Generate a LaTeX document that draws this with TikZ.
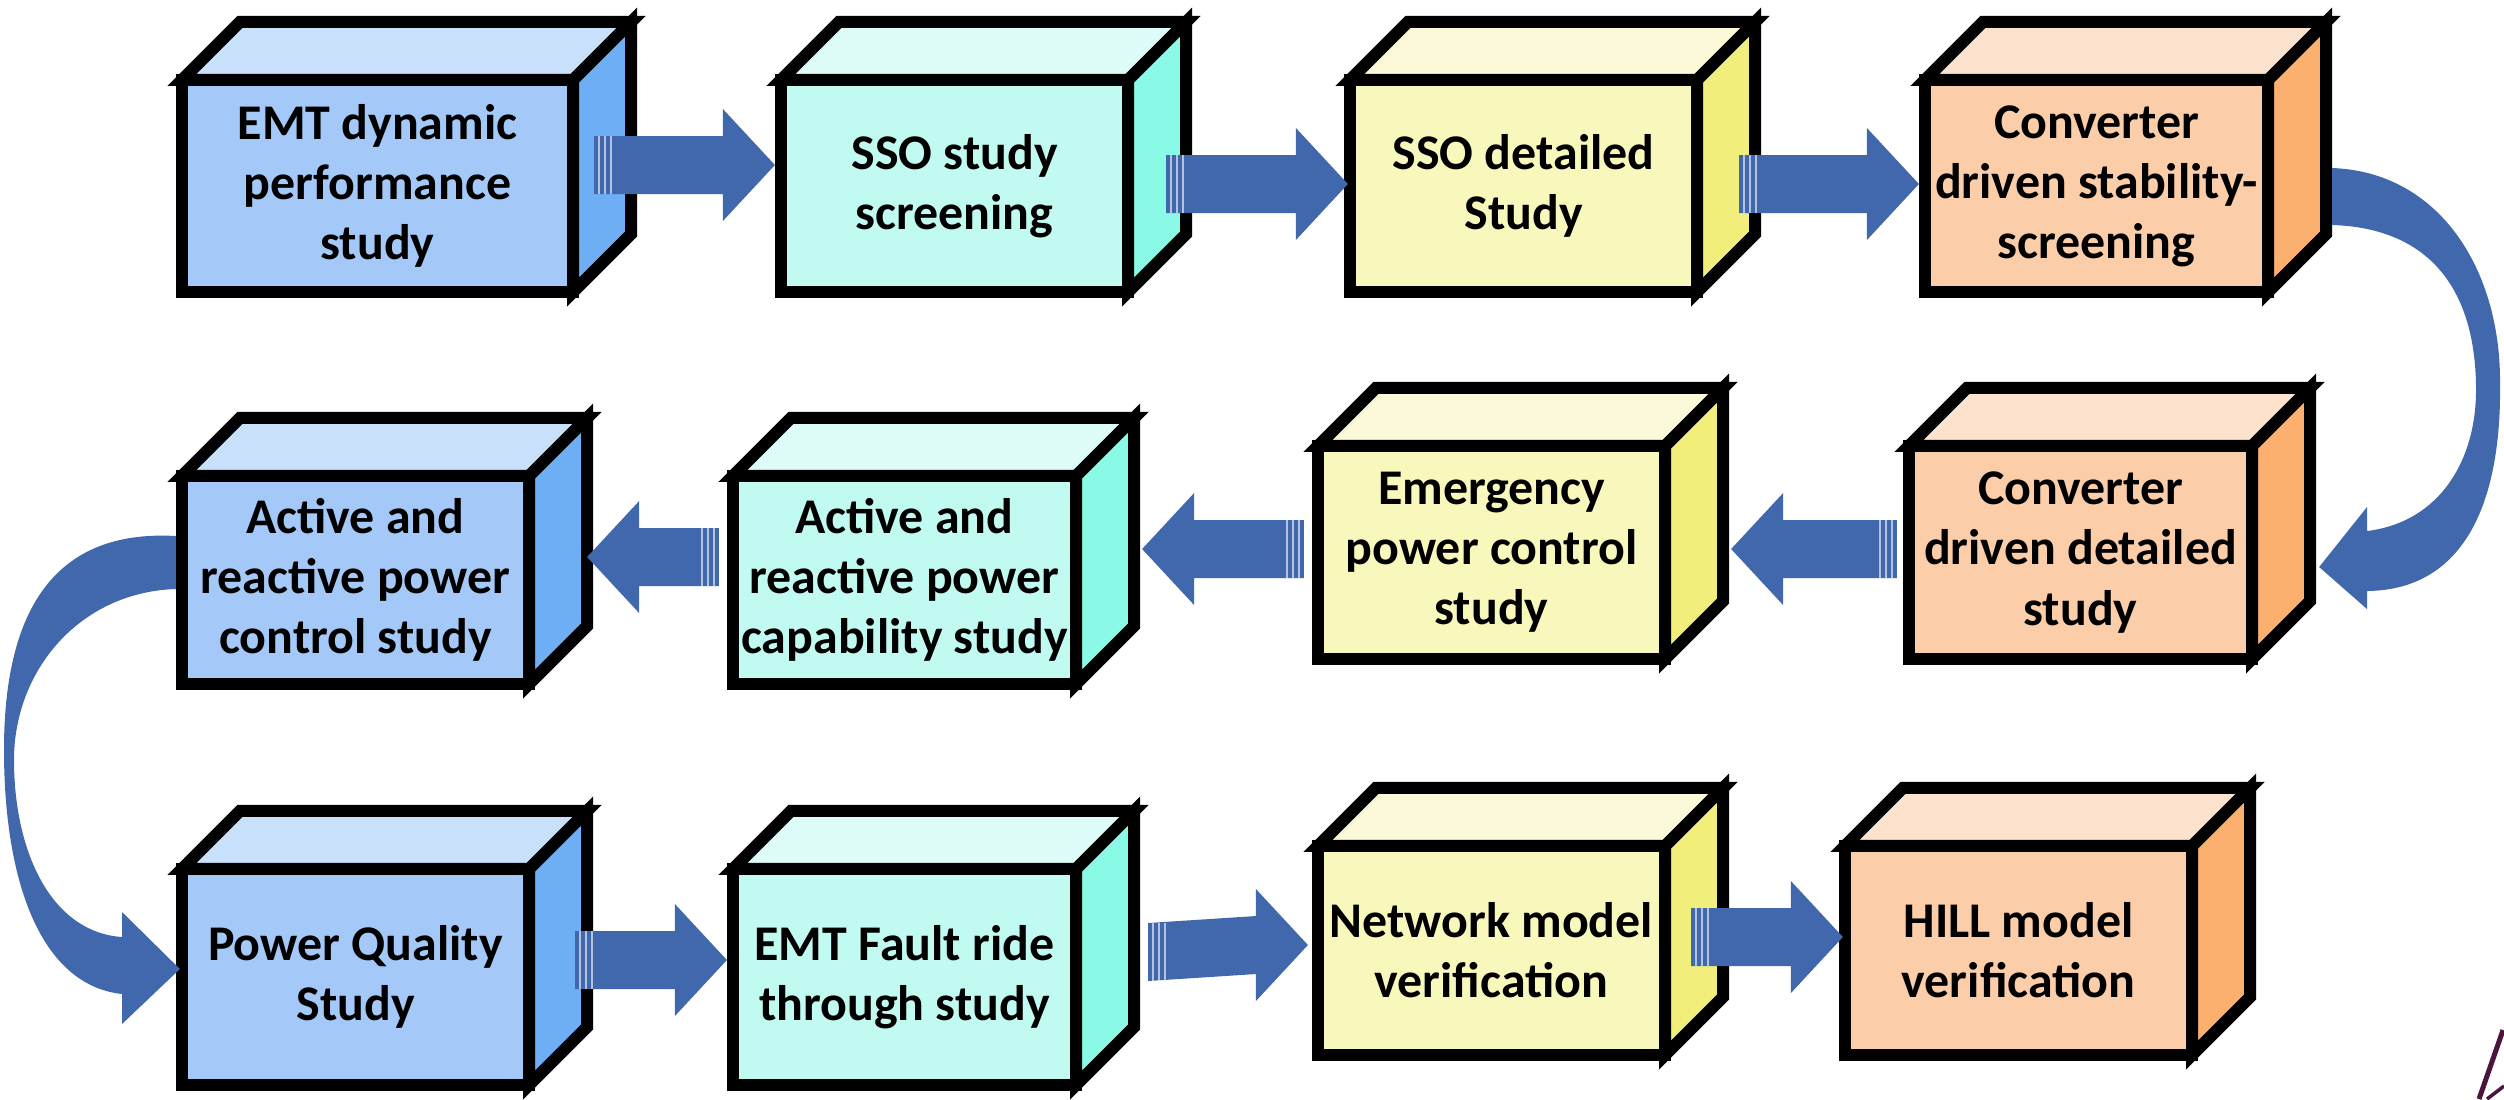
\documentclass[tikz,border=0pt]{standalone}
\usepackage{fontspec}
\setmainfont{Carlito}
\usetikzlibrary{calc}
\definecolor{bluF}{RGB}{164,200,248}
\definecolor{bluT}{RGB}{200,224,250}
\definecolor{bluS}{RGB}{110,174,245}
\definecolor{cyaF}{RGB}{192,250,240}
\definecolor{cyaT}{RGB}{221,252,248}
\definecolor{cyaS}{RGB}{138,249,230}
\definecolor{yelF}{RGB}{249,248,188}
\definecolor{yelT}{RGB}{251,249,216}
\definecolor{yelS}{RGB}{242,238,124}
\definecolor{oraF}{RGB}{251,205,168}
\definecolor{oraT}{RGB}{253,227,206}
\definecolor{oraS}{RGB}{251,176,112}
\definecolor{arrowc}{RGB}{65,103,173}
\definecolor{strayc}{RGB}{75,20,60}

\newcommand{\mkcube}[7]{%
  \node[frontbox, fill=#6F, minimum width=#4cm, minimum height=#5cm] (#1) at (#2,#3) {#7};
  \filldraw[face, fill=#6T] (#1.north west) -- ++(58,-58) -- ($(#1.north east)+(58,-58)$) -- (#1.north east) -- cycle;
  \filldraw[face, fill=#6S] (#1.north east) -- ++(58,-58) -- ($(#1.south east)+(58,-58)$) -- (#1.south east) -- cycle;
}
\newcommand{\rarrow}[2]{%
  \fill[arrowc] ($(#1)+(0,-29)$) -- ($(#2)+(-52,-29)$) -- ($(#2)+(-52,-56)$) -- (#2) -- ($(#2)+(-52,56)$) -- ($(#2)+(-52,29)$) -- ($(#1)+(0,29)$) -- cycle;
  \foreach \s in {5,11,17} \draw[stripe] ($(#1)+(\s,-29)$) -- ($(#1)+(\s,29)$);
}
\newcommand{\larrow}[2]{%
  \fill[arrowc] ($(#1)+(0,-29)$) -- ($(#2)+(52,-29)$) -- ($(#2)+(52,-56)$) -- (#2) -- ($(#2)+(52,56)$) -- ($(#2)+(52,29)$) -- ($(#1)+(0,29)$) -- cycle;
  \foreach \s in {5,11,17} \draw[stripe] ($(#1)+(-\s,-29)$) -- ($(#1)+(-\s,29)$);
}

\begin{document}
\begin{tikzpicture}[x=0.01cm, y=-0.01cm,
  frontbox/.style={draw=black, line width=0.12cm, outer sep=0pt, inner sep=0pt,
    align=center, text=black, font=\fontsize{14.2}{17.1}\selectfont\bfseries},
  face/.style={draw=black, line width=0.12cm, line join=miter},
  stripe/.style={draw=white, line width=0.018cm, opacity=0.6}]
\fill[white] (0,0) rectangle (2504,1099);
\useasboundingbox (0,0) rectangle (2504,1099);

% row 1
\mkcube{b1}{377.5}{186}{3.91}{2.12}{blu}{EMT dynamic\\performance\\study}
\mkcube{b2}{954.5}{186}{3.47}{2.12}{cya}{SSO study\\screening}
\mkcube{b3}{1523.5}{186}{3.47}{2.12}{yel}{SSO detailed\\Study}
\mkcube{b4}{2096.5}{186}{3.43}{2.12}{ora}{Converter\\driven stability-\\screening}
% row 2
\mkcube{A}{355.5}{580}{3.47}{2.08}{blu}{Active and\\reactive power\\control study}
\mkcube{B}{904.5}{580}{3.43}{2.08}{cya}{Active and\\reactive power\\capability study}
\mkcube{C}{1491.5}{552.5}{3.47}{2.13}{yel}{Emergency\\power control\\study}
\mkcube{D}{2080.5}{552.5}{3.43}{2.13}{ora}{Converter\\driven detailed\\study}
% row 3
\mkcube{E}{355.5}{977}{3.47}{2.16}{blu}{Power Quality\\Study}
\mkcube{F}{904.5}{977}{3.43}{2.16}{cya}{EMT Fault ride\\through study}
\mkcube{G}{1491.5}{950.5}{3.47}{2.09}{yel}{Network model\\verification}
\mkcube{H}{2018.5}{950.5}{3.47}{2.09}{ora}{HILL model\\verification}

% straight block arrows
\coordinate (a1s) at ($(b1.east)+(21,-21)$);
\coordinate (a1e) at ($(b2.west)+(-6,-21)$);
\rarrow{a1s}{a1e}
\coordinate (a2s) at ($(b2.east)+(38,-2)$);
\coordinate (a2e) at ($(b3.west)+(-2,-2)$);
\rarrow{a2s}{a2e}
\coordinate (a3s) at ($(b3.east)+(42,-2)$);
\coordinate (a3e) at ($(b4.west)+(-6,-2)$);
\rarrow{a3s}{a3e}

\coordinate (a4s) at ($(D.west)+(-12,-3.5)$);
\coordinate (a4e) at ($(C.east)+(66,-3.5)$);
\larrow{a4s}{a4e}
\coordinate (a5s) at ($(C.west)+(-14,-3.5)$);
\coordinate (a5e) at ($(B.east)+(66,-31)$);
\larrow{a5s}{a5e}
\coordinate (a6s) at ($(B.west)+(-14,-23)$);
\coordinate (a6e) at ($(A.east)+(58,-23)$);
\larrow{a6s}{a6e}

\coordinate (a7s) at ($(E.east)+(46,-17)$);
\coordinate (a7e) at ($(F.west)+(-6,-17)$);
\rarrow{a7s}{a7e}
\coordinate (a8s) at ($(F.east)+(72,-25)$);
\coordinate (a8e) at ($(G.west)+(-10,-5.5)$);
\rarrow{a8s}{a8e}
\coordinate (a9s) at ($(G.east)+(26,-13.5)$);
\coordinate (a9e) at ($(H.west)+(-2,-13.5)$);
\rarrow{a9s}{a9e}

% curved arrow, right side
\coordinate (r1) at ($(b4.east)+(64,-18)$);
\coordinate (r2) at ($(b4.east)+(64,39)$);
\coordinate (rt) at ($(D.east)+(67,14.5)$);
\fill[arrowc] (r1) .. controls (2440,172) and (2500,270) .. (2500,381)
  .. controls (2502,510) and (2460,590) .. (2367,591)
  -- (2367,609) -- (rt) -- (2367,507) -- (2367,531)
  .. controls (2440,522) and (2476,460) .. (2476,390)
  .. controls (2476,290) and (2430,228) .. (r2) -- cycle;

% curved arrow, left side
\coordinate (l1) at ($(A.west)+(-6,-44)$);
\coordinate (l2) at ($(A.west)+(-6,9)$);
\coordinate (lt) at ($(E.west)+(-2,-8)$);
\fill[arrowc] (l1) .. controls (70,530) and (4,590) .. (4,750)
  .. controls (4,880) and (40,985) .. (122,994)
  -- (122,1024) -- (lt) -- (122,912) -- (122,937)
  .. controls (50,932) and (14,850) .. (14,760)
  .. controls (14,670) and (80,592) .. (l2) -- cycle;

% stray mark at the lower right corner
\draw[strayc, line width=0.05cm] (2503,1030) -- (2479,1099);
\draw[strayc, line width=0.035cm] (2487,1099) -- (2504,1086);
\end{tikzpicture}
\end{document}
